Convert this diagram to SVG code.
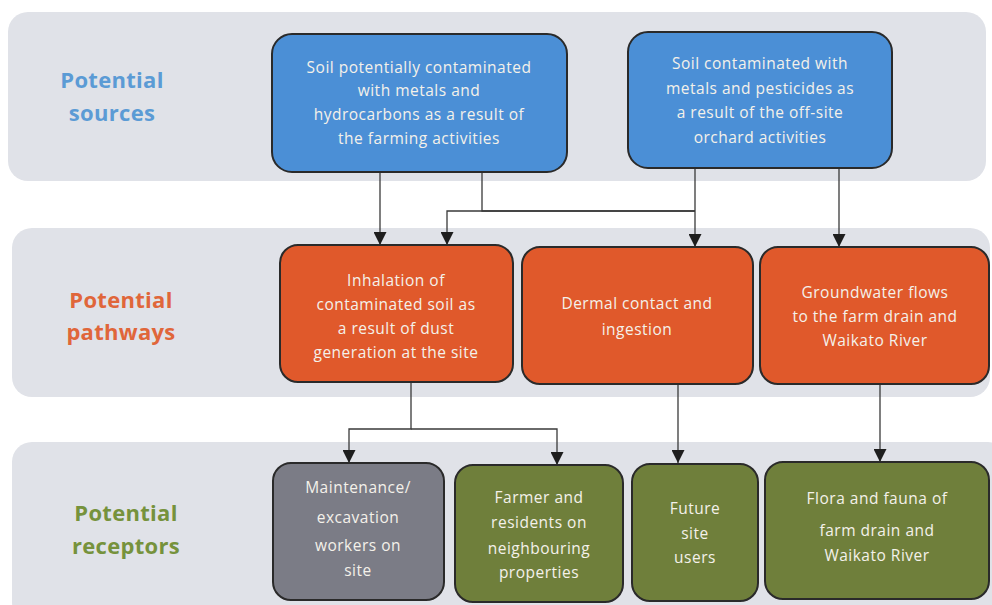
<svg xmlns="http://www.w3.org/2000/svg" width="992" height="605" viewBox="0 0 992 605">
<defs>
<style>
.band{fill:#e0e2e8}
.box{stroke:#2a2a2a;stroke-width:2}
.src{fill:#4b8fd6}
.pth{fill:#e0592b}
.rec{fill:#6f7f3b}
.gry{fill:#7b7c86}
.t{font-family:"Open Sans","Liberation Sans",sans-serif;font-size:15.5px;letter-spacing:0.5px;fill:#f4f1ea;text-anchor:middle}
.lbl{font-family:"Open Sans","Liberation Sans",sans-serif;font-size:22px;letter-spacing:0.3px;font-weight:bold;text-anchor:middle}
.c{fill:none;stroke:#3a3a3a;stroke-width:1.3}
</style>
<marker id="ah" markerWidth="13" markerHeight="13" viewBox="0 0 13 13" refX="13" refY="6.5" orient="auto" markerUnits="userSpaceOnUse">
<path d="M0,0 L13,6.5 L0,13 Z" fill="#1e1e1e"/>
</marker>
</defs>
<rect width="992" height="605" fill="#ffffff"/>
<rect class="band" x="8" y="12" width="978" height="169" rx="20"/>
<rect class="band" x="12" y="228" width="978" height="169" rx="20"/>
<rect class="band" x="12" y="442" width="996" height="180" rx="20"/>

<g id="label-sources"><text class="lbl" x="112" y="88" fill="#5b9bd5">Potential</text><text class="lbl" x="112" y="121" fill="#5b9bd5">sources</text></g>
<g id="label-pathways"><text class="lbl" x="121" y="308" fill="#e0663a">Potential</text><text class="lbl" x="121" y="340" fill="#e0663a">pathways</text></g>
<g id="label-receptors"><text class="lbl" x="126" y="521" fill="#76923c">Potential</text><text class="lbl" x="126" y="554" fill="#76923c">receptors</text></g>

<g id="connectors">
<path class="c" d="M380,172 V245" marker-end="url(#ah)"/>
<path class="c" d="M482,172 V211 H695"/>
<path class="c" d="M695,168 V247" marker-end="url(#ah)"/>
<path class="c" d="M695,211 H447 V245" marker-end="url(#ah)"/>
<path class="c" d="M839,168 V247" marker-end="url(#ah)"/>
<path class="c" d="M411,382 V429 H349 V463" marker-end="url(#ah)"/>
<path class="c" d="M411,429 H557 V465" marker-end="url(#ah)"/>
<path class="c" d="M678,384 V463" marker-end="url(#ah)"/>
<path class="c" d="M880,384 V462" marker-end="url(#ah)"/>
</g>

<g id="src1"><rect class="box src" x="272" y="34" width="295" height="138" rx="20"/>
<text class="t" x="419" y="73">Soil potentially contaminated</text>
<text class="t" x="419" y="96">with metals and</text>
<text class="t" x="419" y="120">hydrocarbons as a result of</text>
<text class="t" x="419" y="144">the farming activities</text></g>

<g id="src2"><rect class="box src" x="628" y="32" width="264" height="136" rx="20"/>
<text class="t" x="760" y="69">Soil contaminated with</text>
<text class="t" x="760" y="94">metals and pesticides as</text>
<text class="t" x="760" y="118">a result of the off-site</text>
<text class="t" x="760" y="143">orchard activities</text></g>

<g id="pth1"><rect class="box pth" x="280" y="245" width="233" height="137" rx="18"/>
<text class="t" x="396" y="286">Inhalation of</text>
<text class="t" x="396" y="310">contaminated soil as</text>
<text class="t" x="396" y="334">a result of dust</text>
<text class="t" x="396" y="358">generation at the site</text></g>

<g id="pth2"><rect class="box pth" x="522" y="247" width="231" height="137" rx="18"/>
<text class="t" x="637" y="309">Dermal contact and</text>
<text class="t" x="637" y="335">ingestion</text></g>

<g id="pth3"><rect class="box pth" x="760" y="247" width="229" height="137" rx="18"/>
<text class="t" x="875" y="298">Groundwater flows</text>
<text class="t" x="875" y="322">to the farm drain and</text>
<text class="t" x="875" y="346">Waikato River</text></g>

<g id="rec1"><rect class="box gry" x="273" y="463" width="171" height="137" rx="18"/>
<text class="t" x="358" y="493">Maintenance/</text>
<text class="t" x="358" y="523">excavation</text>
<text class="t" x="358" y="551">workers on</text>
<text class="t" x="358" y="576">site</text></g>

<g id="rec2"><rect class="box rec" x="455" y="465" width="168" height="137" rx="18"/>
<text class="t" x="539" y="503">Farmer and</text>
<text class="t" x="539" y="528">residents on</text>
<text class="t" x="539" y="554">neighbouring</text>
<text class="t" x="539" y="578">properties</text></g>

<g id="rec3"><rect class="box rec" x="632" y="464" width="126" height="137" rx="18"/>
<text class="t" x="695" y="514">Future</text>
<text class="t" x="695" y="539">site</text>
<text class="t" x="695" y="563">users</text></g>

<g id="rec4"><rect class="box rec" x="765" y="462" width="224" height="137" rx="18"/>
<text class="t" x="877" y="504">Flora and fauna of</text>
<text class="t" x="877" y="536">farm drain and</text>
<text class="t" x="877" y="561">Waikato River</text></g>
</svg>
